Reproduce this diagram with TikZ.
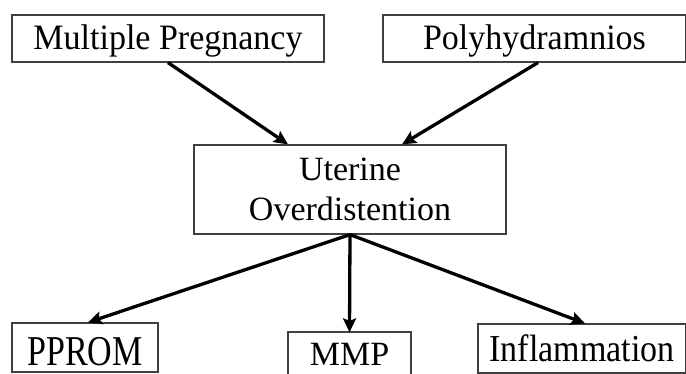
\documentclass[tikz,border=0pt]{standalone}
\usepackage{fontspec}
\setmainfont{Liberation Serif}
\usetikzlibrary{arrows.meta}
\begin{document}
\begin{tikzpicture}[x=1pt,y=-1pt,
  box/.style={draw=black!75, line width=1.2pt, rectangle, inner sep=0pt,
    font=\fontsize{34}{40}\selectfont},
  onel/.style={text height=#1, text depth=0pt},
  arr/.style={line width=3.3pt, -{Stealth[length=14pt,width=13pt,inset=2.5pt]}}]
\clip (0,0) rectangle (686,374);
\useasboundingbox (0,0) rectangle (686,374);
\node[box,onel=21.5pt,minimum width=312pt,minimum height=47pt] (mp) at (168,38.5) {\scalebox{1}[1.05]{Multiple Pregnancy}};
\node[box,onel=22pt,minimum width=303pt,minimum height=47pt] (po) at (534.5,38.5) {\scalebox{1}[1.05]{Polyhydramnios}};
\node[box,minimum width=312pt,minimum height=89pt,align=center] (ut) at (350,189.5) {Uterine\\Overdistention};
\node[box,onel=35pt,minimum width=146pt,minimum height=49pt] (pp) at (85,347.5) {\scalebox{1}[1.25]{PPROM}};
\node[box,onel=20pt,minimum width=123pt,minimum height=48pt] (mm) at (349.5,356) {MMP};
\node[box,onel=26.5pt,minimum width=208pt,minimum height=49pt] (in) at (582,348.5) {\scalebox{1}[1.12]{Inflammation}};
\coordinate (utA) at ([xshift=-62pt]ut.north);
\coordinate (utB) at ([xshift=52pt]ut.north);
\draw[arr] (mp.south) -- (utA);
\draw[arr] ([xshift=3.5pt]po.south) -- (utB);
\draw[arr] (ut.south) -- ([xshift=3pt]pp.north);
\draw[arr] (ut.south) -- ([yshift=-1pt]mm.north);
\draw[arr] (ut.south) -- ([xshift=3pt]in.north);
\end{tikzpicture}
\end{document}
